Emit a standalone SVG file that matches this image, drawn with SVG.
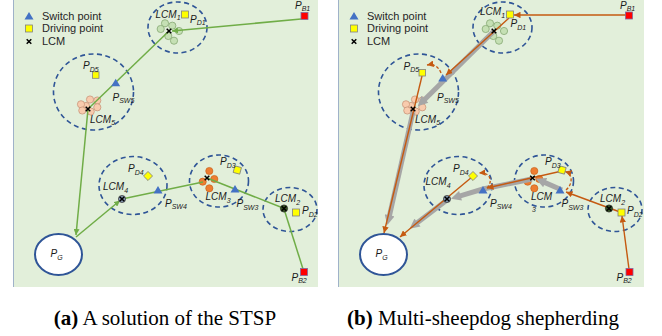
<svg xmlns="http://www.w3.org/2000/svg" xmlns:xlink="http://www.w3.org/1999/xlink" width="662" height="336" viewBox="0 0 662 336">
<style>
.bg{fill:#e2efda}
.edge{stroke:#9fb2c9;stroke-width:1}
.lbl{font-family:"Liberation Sans",Arial,sans-serif;font-style:italic;font-size:10px;fill:#1a1a1a}
.sub{font-size:7px}
.leg{font-family:"Liberation Sans",Arial,sans-serif;font-size:11px;fill:#262626}
.cap{font-family:"Liberation Serif","Times New Roman",serif;font-size:21px;fill:#000}
.zone{fill:none;stroke:#2f5597;stroke-width:1.6;stroke-dasharray:5 3.5}
.gl{stroke:#70ad47;stroke-width:1.5;fill:none}
.ol{stroke:#c55a11;stroke-width:1.4;fill:none}
.od{stroke:#c55a11;stroke-width:1.3;stroke-dasharray:3 2;fill:none}
.gray{stroke:#a6a6a6;stroke-width:5;fill:none}
.sw{fill:#4472c4}
.dp{fill:#ffff00;stroke:#808080;stroke-width:.8}
.bp{fill:#ff0000;stroke:#7f6aa0;stroke-width:.8}
.fg{fill:#c5e0b4;stroke:#86a874;stroke-width:.8}
.fs{fill:#f8cbad;stroke:#c9967a;stroke-width:.8}
.fo{fill:#ed7d31;stroke:#c55a11;stroke-width:.6}
.xm{stroke:#000;stroke-width:1.5;fill:none}
.goal{fill:#fff;stroke:#2f5597;stroke-width:2}
</style>
<defs>
<path id="xmark" class="xm" d="M-2.3,-2.3 L2.3,2.3 M-2.3,2.3 L2.3,-2.3"/>
<path id="tri" class="sw" d="M0,-4 L4.5,3.5 L-4.5,3.5 z"/>
<marker id="ag" viewBox="0 0 8 8" refX="8" refY="4" markerWidth="6" markerHeight="6" orient="auto" markerUnits="userSpaceOnUse"><path d="M0,0 L8,4 L0,8 z" fill="#70ad47"/></marker>
<marker id="ao" viewBox="0 0 8 8" refX="8" refY="4" markerWidth="6.5" markerHeight="6.5" orient="auto" markerUnits="userSpaceOnUse"><path d="M0,0 L8,4 L0,8 z" fill="#c55a11"/></marker>
<marker id="agr" viewBox="0 0 10 10" refX="2" refY="5" markerWidth="11" markerHeight="10" orient="auto" markerUnits="userSpaceOnUse"><path d="M0,0 L10,5 L0,10 z" fill="#a6a6a6"/></marker>
</defs>

<!-- ================= PANEL A ================= -->
<g id="panel-a">
<rect class="bg" x="13" y="0" width="305" height="287"/>
<line class="edge" x1="13.5" y1="0" x2="13.5" y2="287"/>
<g id="a-legend">
<use xlink:href="#tri" x="29" y="16"/>
<text class="leg" x="42" y="20">Switch point</text>
<rect class="dp" x="25.5" y="25" width="7" height="7"/>
<text class="leg" x="42" y="32">Driving  point</text>
<use xlink:href="#xmark" x="29" y="41.5"/>
<text class="leg" x="42" y="44.5">LCM</text>
</g>
<g id="a-zone1">
<ellipse class="zone" cx="177.5" cy="27.5" rx="29.5" ry="25.5"/>
<circle class="fg" cx="165" cy="23.3" r="3.6"/><circle class="fg" cx="172.3" cy="25.7" r="3.6"/><circle class="fg" cx="160.7" cy="29" r="3.6"/><circle class="fg" cx="179" cy="31" r="3.6"/><circle class="fg" cx="168.3" cy="36" r="3.6"/><circle class="fg" cx="174" cy="40.7" r="3.6"/>
</g>
<g id="a-zone5">
<ellipse class="zone" cx="93.5" cy="92" rx="40" ry="38"/>
<circle class="fs" cx="86" cy="106" r="3.6"/><circle class="fs" cx="81" cy="104.3" r="3.6"/><circle class="fs" cx="90" cy="99.5" r="3.6"/><circle class="fs" cx="97.3" cy="100.5" r="3.6"/><circle class="fs" cx="97.3" cy="107.3" r="3.6"/><circle class="fs" cx="82.3" cy="110.5" r="3.6"/><circle class="fs" cx="90.7" cy="111.5" r="3.6"/>
</g>
<g id="a-zone4"><ellipse class="zone" cx="133" cy="185.5" rx="34" ry="29"/></g>
<g id="a-zone3">
<ellipse class="zone" cx="219" cy="181" rx="29.5" ry="26"/>
<circle class="fo" cx="209.3" cy="171" r="3.6"/><circle class="fo" cx="214.3" cy="179" r="3.6"/><circle class="fo" cx="202.7" cy="181.7" r="3.6"/><circle class="fo" cx="209.3" cy="188.3" r="3.6"/>
</g>
<g id="a-zone2"><ellipse class="zone" cx="290" cy="209.5" rx="27" ry="22"/></g>

<g id="a-connectors">
<path class="gl" d="M301,19 L172,31" marker-end="url(#ag)"/>
<path class="gl" d="M169,31 L89,108"/>
<path class="gl" d="M88,109 L76,235" marker-end="url(#ag)"/>
<path class="gl" d="M76,237 L120,200.5" marker-end="url(#ag)"/>
<path class="gl" d="M122,199 L203,182"/>
<path class="gl" d="M207,178 L283,208"/>
<path class="gl" d="M284,209 L303,269"/>
</g>

<g id="a-lcm1"><use xlink:href="#xmark" x="169" y="31"/><text class="lbl" x="155.5" y="17.5">LCM<tspan class="sub" dy="2.5">1</tspan></text></g>
<g id="a-pd1"><rect class="dp" x="181.5" y="11" width="7" height="7"/><text class="lbl" x="190" y="22.5">P<tspan class="sub" dy="2.5">D1</tspan></text></g>
<g id="a-pb1"><rect class="bp" x="301" y="12.5" width="7" height="7"/><text class="lbl" x="295" y="8.5">P<tspan class="sub" dy="2.5">B1</tspan></text></g>
<g id="a-lcm5"><use xlink:href="#xmark" x="88" y="109"/><text class="lbl" x="90" y="122.5">LCM<tspan class="sub" dy="2.5">5</tspan></text></g>
<g id="a-pd5"><rect class="dp" x="92.5" y="71.8" width="6.5" height="6.5"/><text class="lbl" x="83" y="69">P<tspan class="sub" dy="2.5">D5</tspan></text></g>
<g id="a-psw5"><use xlink:href="#tri" x="115.7" y="82.7"/><text class="lbl" x="112.5" y="100.5">P<tspan class="sub" dy="2.5">SW5</tspan></text></g>
<g id="a-lcm4"><circle cx="122" cy="199" r="3.6" fill="#8497b0" stroke="#333" stroke-width=".7"/><use xlink:href="#xmark" x="122" y="199"/><text class="lbl" x="103" y="190">LCM<tspan class="sub" dy="2.5">4</tspan></text></g>
<g id="a-pd4"><rect class="dp" x="-3.2" y="-3.2" width="6.4" height="6.4" transform="translate(148,176) rotate(45)"/><text class="lbl" x="128" y="172">P<tspan class="sub" dy="2.5">D4</tspan></text></g>
<g id="a-psw4"><use xlink:href="#tri" x="158" y="190"/><text class="lbl" x="165" y="206.5">P<tspan class="sub" dy="2.5">SW4</tspan></text></g>
<g id="a-lcm3"><use xlink:href="#xmark" x="207" y="178"/><text class="lbl" x="205.5" y="200">LCM<tspan class="sub" dy="2.5">3</tspan></text></g>
<g id="a-pd3"><rect class="dp" x="-3.4" y="-3.4" width="6.8" height="6.8" transform="translate(237.3,170) rotate(15)"/><text class="lbl" x="220" y="165">P<tspan class="sub" dy="2.5">D3</tspan></text></g>
<g id="a-psw3"><use xlink:href="#tri" x="235" y="189"/><text class="lbl" x="236.5" y="207">P<tspan class="sub" dy="2.5">SW3</tspan></text></g>
<g id="a-lcm2"><circle cx="284" cy="208.5" r="3.6" fill="#375623" stroke="#222" stroke-width=".7"/><use xlink:href="#xmark" x="284" y="208.5"/><text class="lbl" x="275" y="202">LCM<tspan class="sub" dy="2.5">2</tspan></text></g>
<g id="a-pd2"><rect class="dp" x="292.5" y="209" width="7" height="7"/><text class="lbl" x="302" y="214">P<tspan class="sub" dy="2.5">D2</tspan></text></g>
<g id="a-pb2"><rect class="bp" x="300.5" y="268.5" width="7" height="7"/><text class="lbl" x="291.5" y="280.5">P<tspan class="sub" dy="2.5">B2</tspan></text></g>
<g id="a-pg"><ellipse class="goal" cx="58.5" cy="254.5" rx="23.5" ry="20.5"/><text class="lbl" x="50.5" y="257">P<tspan class="sub" dy="2.5">G</tspan></text></g>
</g>

<!-- ================= PANEL B ================= -->
<g id="panel-b" transform="translate(325,0)">
<rect class="bg" x="13" y="0" width="306" height="287"/>
<line class="edge" x1="13.5" y1="0" x2="13.5" y2="287"/>
<g id="b-legend">
<use xlink:href="#tri" x="29" y="16"/>
<text class="leg" x="42" y="20">Switch point</text>
<rect class="dp" x="25.5" y="25" width="7" height="7"/>
<text class="leg" x="42" y="32">Driving  point</text>
<use xlink:href="#xmark" x="29" y="41.5"/>
<text class="leg" x="42" y="44.5">LCM</text>
</g>
<g id="b-zone1">
<ellipse class="zone" cx="177.5" cy="27.5" rx="29.5" ry="25.5"/>
<circle class="fg" cx="165" cy="23.3" r="3.6"/><circle class="fg" cx="172.3" cy="25.7" r="3.6"/><circle class="fg" cx="160.7" cy="29" r="3.6"/><circle class="fg" cx="179" cy="31" r="3.6"/><circle class="fg" cx="168.3" cy="36" r="3.6"/><circle class="fg" cx="174" cy="40.7" r="3.6"/>
</g>
<g id="b-zone5">
<ellipse class="zone" cx="93.5" cy="92" rx="40" ry="38"/>
<circle class="fs" cx="86" cy="106" r="3.6"/><circle class="fs" cx="81" cy="104.3" r="3.6"/><circle class="fs" cx="90" cy="99.5" r="3.6"/><circle class="fs" cx="97.3" cy="100.5" r="3.6"/><circle class="fs" cx="97.3" cy="107.3" r="3.6"/><circle class="fs" cx="82.3" cy="110.5" r="3.6"/><circle class="fs" cx="90.7" cy="111.5" r="3.6"/>
</g>
<g id="b-zone4"><ellipse class="zone" cx="133" cy="185.5" rx="34" ry="29"/></g>
<g id="b-zone3">
<ellipse class="zone" cx="219" cy="181" rx="29.5" ry="26"/>
<circle class="fo" cx="209.3" cy="171" r="3.6"/><circle class="fo" cx="214.3" cy="179" r="3.6"/><circle class="fo" cx="202.7" cy="181.7" r="3.6"/><circle class="fo" cx="209.3" cy="188.3" r="3.6"/>
</g>
<g id="b-zone2"><ellipse class="zone" cx="290" cy="209.5" rx="27" ry="22"/></g>

<g id="b-connectors">
<path class="gray" d="M169,31 L98.4,100.7" marker-end="url(#agr)"/>
<path class="gray" d="M88,112 L64.1,217.3" marker-end="url(#agr)"/>
<path class="gray" d="M207,179 L158,189 L133.6,196.4" marker-end="url(#agr)"/>
<path class="gray" d="M122,200 L90.9,223.8" marker-end="url(#agr)"/>
<path class="gray" d="M237,190 L218.3,181.9" marker-end="url(#agr)"/>
<path class="ol" d="M301,15 L189,15" marker-end="url(#ao)"/>
<path class="ol" d="M184,18 L121,75" marker-end="url(#ao)"/>
<path class="od" d="M116,73 Q112,63 102,65" marker-end="url(#ao)"/>
<path class="ol" d="M97,76 L59,233" marker-end="url(#ao)"/>
<path class="ol" d="M147,177 L75,237" marker-end="url(#ao)"/>
<path class="od" d="M162,188 C168,182 166,172 154,173" marker-end="url(#ao)"/>
<path class="ol" d="M237,171 L162,188" marker-end="url(#ao)"/>
<path class="od" d="M241,190 C248,184 248,174 240,171.5" marker-end="url(#ao)"/>
<path class="ol" d="M295,212 L241,192" marker-end="url(#ao)"/>
<path class="ol" d="M304,269 L297,216" marker-end="url(#ao)"/>
</g>

<g id="b-lcm1"><use xlink:href="#xmark" x="169" y="31"/><text class="lbl" x="155" y="15">LCM<tspan class="sub" dy="2.5">1</tspan></text></g>
<g id="b-pd1"><rect class="dp" x="181.5" y="11" width="7" height="7"/><text class="lbl" x="185.5" y="27">P<tspan class="sub" dy="2.5">D1</tspan></text></g>
<g id="b-pb1"><rect class="bp" x="300.5" y="12" width="7" height="7"/><text class="lbl" x="295" y="8.5">P<tspan class="sub" dy="2.5">B1</tspan></text></g>
<g id="b-lcm5"><use xlink:href="#xmark" x="88" y="109"/><text class="lbl" x="90" y="122.5">LCM<tspan class="sub" dy="2.5">5</tspan></text></g>
<g id="b-pd5"><rect class="dp" x="94" y="69.5" width="6.5" height="6.5"/><text class="lbl" x="78.5" y="69.5">P<tspan class="sub" dy="2.5">D5</tspan></text></g>
<g id="b-psw5"><use xlink:href="#tri" x="117.7" y="78"/><text class="lbl" x="112" y="100.5">P<tspan class="sub" dy="2.5">SW5</tspan></text></g>
<g id="b-lcm4"><circle cx="122" cy="199" r="3.6" fill="#8497b0" stroke="#333" stroke-width=".7"/><use xlink:href="#xmark" x="122" y="199"/><text class="lbl" x="100.5" y="185">LCM<tspan class="sub" dy="2.5">4</tspan></text></g>
<g id="b-pd4"><rect class="dp" x="-3.2" y="-3.2" width="6.4" height="6.4" transform="translate(148,176) rotate(45)"/><text class="lbl" x="128" y="172">P<tspan class="sub" dy="2.5">D4</tspan></text></g>
<g id="b-psw4"><use xlink:href="#tri" x="158" y="190"/><text class="lbl" x="165" y="206.5">P<tspan class="sub" dy="2.5">SW4</tspan></text></g>
<g id="b-lcm3"><use xlink:href="#xmark" x="207.5" y="178"/><text class="lbl" x="206" y="200">LCM</text><text class="lbl sub" x="207" y="212">3</text></g>
<g id="b-pd3"><rect class="dp" x="-3.4" y="-3.4" width="6.8" height="6.8" transform="translate(237,170) rotate(15)"/><text class="lbl" x="220" y="165">P<tspan class="sub" dy="2.5">D3</tspan></text></g>
<g id="b-psw3"><use xlink:href="#tri" x="235" y="190"/><text class="lbl" x="236.5" y="207">P<tspan class="sub" dy="2.5">SW3</tspan></text></g>
<g id="b-lcm2"><circle cx="284" cy="208.5" r="3.6" fill="#375623" stroke="#222" stroke-width=".7"/><use xlink:href="#xmark" x="284" y="208.5"/><text class="lbl" x="275" y="202">LCM<tspan class="sub" dy="2.5">2</tspan></text></g>
<g id="b-pd2"><rect class="dp" x="293" y="209" width="7" height="7"/><text class="lbl" x="302" y="214">P<tspan class="sub" dy="2.5">D2</tspan></text></g>
<g id="b-pb2"><rect class="bp" x="301" y="268.5" width="7" height="7"/><text class="lbl" x="291.5" y="280.5">P<tspan class="sub" dy="2.5">B2</tspan></text></g>
<g id="b-pg"><ellipse class="goal" cx="58.5" cy="254.5" rx="23.5" ry="20.5"/><text class="lbl" x="50.5" y="257">P<tspan class="sub" dy="2.5">G</tspan></text></g>
</g>

<g id="captions">
<text class="cap" x="165" y="325" text-anchor="middle"><tspan font-weight="bold">(a)</tspan> A solution of the STSP</text>
<text class="cap" x="483" y="325" text-anchor="middle"><tspan font-weight="bold">(b)</tspan> Multi-sheepdog shepherding</text>
</g>
</svg>
